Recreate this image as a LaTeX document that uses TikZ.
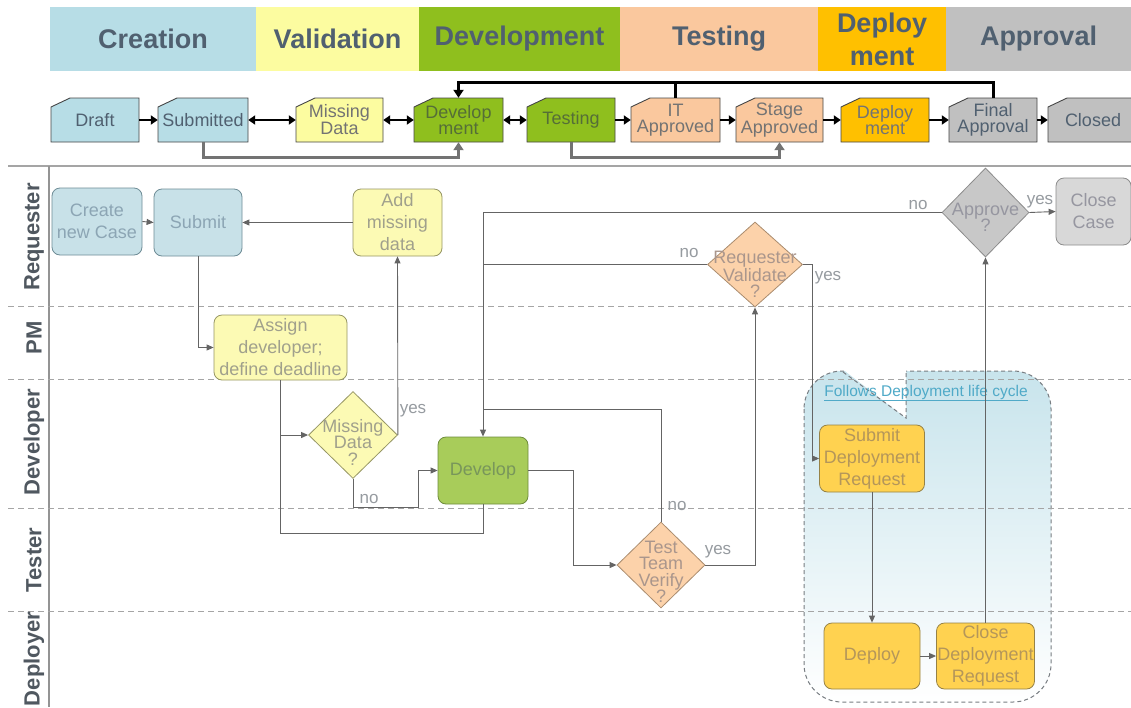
\documentclass[tikz,border=0pt]{standalone}
\usepackage{fontspec}
\setmainfont{Liberation Sans}
\usetikzlibrary{arrows.meta,shapes.geometric}
\definecolor{cCreate}{RGB}{183,221,230}
\definecolor{cValid}{RGB}{252,252,160}
\definecolor{cDev}{RGB}{143,191,30}
\definecolor{cTest}{RGB}{250,200,158}
\definecolor{cDeploy}{RGB}{255,192,0}
\definecolor{cAppr}{RGB}{192,192,192}
\definecolor{cHead}{RGB}{80,96,112}
\definecolor{cStBorder}{RGB}{70,70,70}
\definecolor{cDevT}{RGB}{85,110,55}
\definecolor{cLine}{RGB}{100,100,100}
\definecolor{cGrayConn}{RGB}{115,115,115}
\definecolor{cSep}{RGB}{165,165,165}
\definecolor{cLane}{RGB}{80,88,96}
\definecolor{cYN}{RGB}{150,155,160}
\definecolor{cRegTop}{RGB}{200,228,236}
\definecolor{cRegLine}{RGB}{120,125,130}
\definecolor{cLink}{RGB}{80,170,200}
% flow node colours
\definecolor{fBlue}{RGB}{200,225,232}
\definecolor{fBlueB}{RGB}{110,140,150}
\definecolor{fBlueT}{RGB}{140,165,180}
\definecolor{fYel}{RGB}{252,250,180}
\definecolor{fYelB}{RGB}{150,150,100}
\definecolor{fYelT}{RGB}{160,160,140}
\definecolor{fGrn}{RGB}{168,204,90}
\definecolor{fGrnB}{RGB}{110,140,60}
\definecolor{fGrnT}{RGB}{120,150,90}
\definecolor{fPch}{RGB}{252,210,170}
\definecolor{fPchB}{RGB}{170,140,110}
\definecolor{fPchT}{RGB}{170,150,140}
\definecolor{fGry}{RGB}{200,200,200}
\definecolor{fGryB}{RGB}{140,140,140}
\definecolor{fGryT}{RGB}{150,150,160}
\definecolor{fLGry}{RGB}{216,216,216}
\definecolor{fGold}{RGB}{255,210,80}
\definecolor{fGoldB}{RGB}{150,130,70}
\definecolor{fGoldT}{RGB}{180,150,90}
\newcommand\stbox[6]{%
  \filldraw[fill=#4, draw=cStBorder, line width=0.9pt] (#2,142) -- (#2,107) -- ({#2+19},98) -- (#3,98) -- (#3,142) -- cycle;
  \node[stlabel, text=#5, minimum width={#3-#2}] (#1) at ({(#2+#3)/2},120) {#6};
}
\begin{document}
\begin{tikzpicture}[x=1pt,y=-1pt,
  band/.style={draw=none, inner sep=0, text=cHead, font=\fontsize{27}{33}\selectfont\bfseries, align=center, minimum height=64pt},
  stlabel/.style={inner sep=0, minimum height=44pt, align=center, font=\fontsize{18}{16}\selectfont},
  box/.style={rectangle, rounded corners=8pt, draw, line width=0.8pt, inner sep=0, align=center, font=\fontsize{18}{22}\selectfont},
  dia/.style={diamond, draw, line width=0.8pt, inner sep=0},
  dtext/.style={inner sep=0, align=center, font=\fontsize{18}{16.5}\selectfont},
  arr/.style={draw=cLine, line width=0.9pt, -{Triangle[length=7pt,width=6pt]}},
  ln/.style={draw=cLine, line width=0.9pt},
  yn/.style={font=\fontsize{17}{17}\selectfont, text=cYN, inner sep=0},
  lane/.style={rotate=90, font=\fontsize{22}{22}\selectfont\bfseries, text=cLane, inner sep=0},
  lanesep/.style={draw=cSep, line width=0.8pt, dash pattern=on 6pt off 4pt},
  sarr/.style={line width=2.5pt, -{Triangle[length=7pt,width=9pt]}},
  sdarr/.style={line width=2.5pt, {Triangle[length=7pt,width=9pt]}-{Triangle[length=7pt,width=9pt]}},
  toparr/.style={line width=3pt, -{Triangle[length=8pt,width=10pt]}},
  garr/.style={draw=cGrayConn, line width=3pt, -{Triangle[length=8pt,width=10pt]}, color=cGrayConn},
  regline/.style={draw=cRegLine, line width=1pt, dash pattern=on 4pt off 3pt}
]
\useasboundingbox (0,0) rectangle (1131,707);
\fill[white] (0,0) rectangle (1131,707);

% ---------- header bands ----------
\node[band, fill=cCreate, minimum width=206pt] (hCreation) at (153,39) {Creation};
\node[band, fill=cValid, minimum width=163pt] (hValidation) at (337.5,39) {Validation};
\node[band, fill=cDev, minimum width=201pt] (hDevelopment) at (519.5,39) {Development};
\node[band, fill=cTest, minimum width=198pt] (hTesting) at (719,39) {Testing};
\node[band, fill=cDeploy, minimum width=128pt] (hDeployment) at (882,39) {Deploy\\ment};
\node[band, fill=cAppr, minimum width=185pt] (hApproval) at (1038.5,39) {Approval};

% ---------- state row ----------
\stbox{draft}{51}{139}{cCreate}{cHead}{Draft}
\stbox{submitted}{158}{248}{cCreate}{cHead}{Submitted}
\stbox{missing}{296}{383}{cValid}{black!55}{Missing\\Data}
\stbox{devst}{414}{503}{cDev}{cDevT}{Develop\\ment}
\stbox{testst}{527}{615}{cDev}{cDevT}{Testing}
\stbox{itapp}{631}{720}{cTest}{black!55}{IT\\Approved}
\stbox{stage}{736}{823}{cTest}{black!55}{Stage\\Approved}
\stbox{deplst}{841}{929}{cDeploy}{black!55}{Deploy\\ment}
\stbox{final}{949}{1037}{cAppr}{cHead}{Final\\Approval}
\stbox{closed}{1048}{1138}{cAppr}{cHead}{Closed}

\draw[sarr] (draft.east) -- (submitted.west);
\draw[sdarr] (submitted.east) -- (missing.west);
\draw[sdarr] (missing.east) -- (devst.west);
\draw[sdarr] (devst.east) -- (testst.west);
\draw[sarr] (testst.east) -- (itapp.west);
\draw[sarr] (itapp.east) -- (stage.west);
\draw[sarr] (stage.east) -- (deplst.west);
\draw[sarr] (deplst.east) -- (final.west);
\draw[sarr] (final.east) -- (closed.west);

\draw[toparr] (final.north) -- ++(0,-15) -| (devst.north);
\draw[line width=3pt] (itapp.north) -- ++(0,-15);

\draw[garr] (submitted.south) -- ++(0,15) -| (devst.south);
\draw[garr] (testst.south) -- ++(0,15) -| (stage.south);

% ---------- deployment life cycle region ----------
\draw[regline, top color=cRegTop, bottom color=white, rounded corners=38pt] (804,371) rectangle (1051,702);
\fill[white] (843,369.5) -- (906,369.5) -- (906,418) -- cycle;
\draw[regline] (843,372) -- (906,418) -- (906,371);
\node[font=\fontsize{15.5}{15.5}\selectfont, text=cLink, inner sep=0] (follow) at (926,393) {\underline{Follows Deployment life cycle}};

% ---------- lanes ----------
\draw[cSep, line width=1.5pt] (8,166) -- (1131,166);
\draw[cSep!90!black, line width=1.2pt] (49,166) -- (49,707);
\foreach \yy in {306,379,508,611} \draw[lanesep] (8,\yy) -- (1131,\yy);

\node[lane] (lRequester) at (34,237) {Requester};
\node[lane] (lPM) at (34,338) {PM};
\node[lane] (lDeveloper) at (34,442) {Developer};
\node[lane] (lTester) at (34,560) {Tester};
\node[lane] (lDeployer) at (34,659) {Deployer};

% ---------- flow nodes ----------
\node[box, fill=fBlue, draw=fBlueB, text=fBlueT, minimum width=90pt, minimum height=67pt] (create) at (97,221.5) {Create\\new Case};
\node[box, fill=fBlue, draw=fBlueB, text=fBlueT, minimum width=88pt, minimum height=67pt] (submit) at (198,222.5) {Submit};
\node[box, fill=fYel, draw=fYelB, text=fYelT, minimum width=89pt, minimum height=67pt] (addmiss) at (397.5,222.5) {Add\\missing\\data};
\node[box, fill=fYel, draw=fYelB, text=fYelT, minimum width=133pt, minimum height=65pt] (assign) at (280.5,347.5) {Assign\\developer;\\define deadline};
\node[dia, fill=fYel, draw=fYelB, minimum width=89pt, minimum height=87pt,
  label={[dtext, text=fYelT, yshift=-7pt]center:{Missing\\Data\\?}}] (missd) at (353,435) {};
\node[box, fill=fGrn, draw=fGrnB, text=fGrnT, minimum width=90pt, minimum height=67pt] (develop) at (483,470.5) {Develop};
\node[dia, fill=fPch, draw=fPchB, minimum width=88pt, minimum height=86pt,
  label={[dtext, text=fPchT, yshift=-7pt]center:{Test\\Team\\Verify\\?}}] (testv) at (661,565) {};
\node[dia, fill=fPch, draw=fPchB, minimum width=95pt, minimum height=85pt,
  label={[dtext, text=fPchT, yshift=-10pt]center:{Requester\\Validate\\?}}] (reqv) at (755,264.5) {};
\node[dia, fill=fGry, draw=fGryB, minimum width=87pt, minimum height=89pt,
  label={[dtext, text=fGryT, yshift=-5pt]center:{Approve\\?}}] (approve) at (985.5,212.5) {};
\node[box, fill=fLGry, draw=fGryB, text=fGryT, minimum width=75pt, minimum height=67pt] (closecase) at (1093.5,211.5) {Close\\Case};
\node[box, fill=fGold, draw=fGoldB, text=fGoldT, minimum width=105pt, minimum height=67pt] (subdep) at (872,458.5) {Submit\\Deployment\\Request};
\node[box, fill=fGold, draw=fGoldB, text=fGoldT, minimum width=96pt, minimum height=66pt] (deploy) at (872,656) {Deploy};
\node[box, fill=fGold, draw=fGoldB, text=fGoldT, minimum width=98pt, minimum height=66pt] (closedep) at (985.5,656) {Close\\Deployment\\Request};

% ---------- connectors ----------
\draw[arr] (create.east) -- (submit.west);
\draw[arr] (addmiss.west) -- (submit.east);
\draw[arr] (submit.south) |- (assign.west);
\draw[arr] (assign.south) |- (missd.west);
\draw[ln] (assign.south) |- (483,533) -- (develop.south);
\draw[arr] (missd.east) -- (addmiss.south);
\draw[arr] (missd.south) |- (418,507) |- (develop.west);
\draw[arr] (develop.east) -- (573,470.5) |- (testv.west);
\draw[ln] (testv.north) |- (483,409);
\draw[ln] (reqv.west) -- (483,264.5);
\draw[arr] (approve.west) -| (develop.north);
\draw[arr] (testv.east) -| (reqv.south);
\draw[arr] (reqv.east) -| (812,458.5) -- (subdep.west);
\draw[arr] (subdep.south) -- (deploy.north);
\draw[arr] (deploy.east) -- (closedep.west);
\draw[arr] (closedep.north) -- (approve.south);
\draw[arr] (approve.east) -- (closecase.west);

% ---------- yes / no ----------
\node[yn] (yn1) at (413,411) {yes};
\node[yn] (yn2) at (369,499) {no};
\node[yn] (yn3) at (677,506) {no};
\node[yn] (yn4) at (718,552) {yes};
\node[yn] (yn5) at (689,253) {no};
\node[yn] (yn6) at (828,278) {yes};
\node[yn] (yn7) at (918,205) {no};
\node[yn] (yn8) at (1040,202) {yes};
\end{tikzpicture}
\end{document}
